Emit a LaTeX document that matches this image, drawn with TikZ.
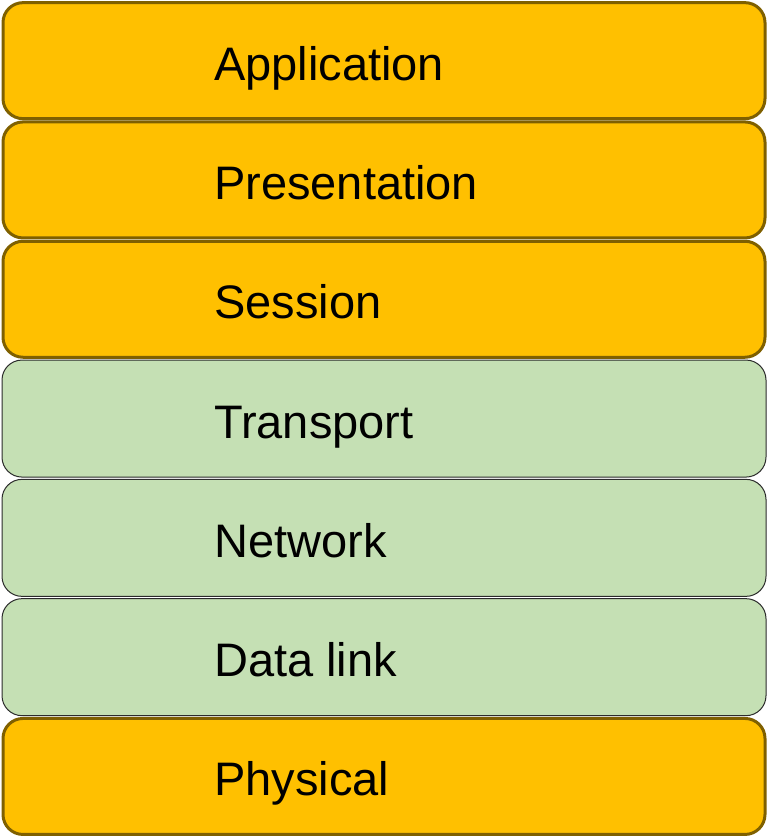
\documentclass[tikz,border=0pt]{standalone}
\usepackage{fontspec}
\setmainfont{Liberation Sans}
\definecolor{orangefill}{HTML}{FFC000}
\definecolor{orangeline}{HTML}{7F6000}
\definecolor{greenfill}{HTML}{C5E0B4}
\definecolor{greenline}{HTML}{2B2B2B}
\begin{document}
\begin{tikzpicture}[x=1pt,y=1pt,
  layerbox/.style={rectangle, rounded corners=20pt, minimum width=764pt, minimum height=117pt, inner sep=0pt, anchor=center},
  orangebox/.style={layerbox, fill=orangefill, draw=orangeline, line width=3pt, minimum width=762pt, minimum height=116pt},
  greenbox/.style={layerbox, fill=greenfill, draw=greenline, line width=1pt},
  layertext/.style={anchor=base west, inner sep=0pt, font=\fontsize{47pt}{50pt}\selectfont}]
\useasboundingbox (0,0) rectangle (768,-838);
% green layers first
\node[greenbox] (b4) at (384,{-(1+119.3*3.5)}) {};
\node[greenbox] (b5) at (384,{-(1+119.3*4.5)}) {};
\node[greenbox] (b6) at (384,{-(1+119.3*5.5)}) {};
% orange layers
\node[orangebox] (b1) at (384,{-(1+119.3*0.5)}) {};
\node[orangebox] (b2) at (384,{-(1+119.3*1.5)}) {};
\node[orangebox] (b3) at (384,{-(1+119.3*2.5)}) {};
\node[orangebox] (b7) at (384,{-(1+119.3*6.5)}) {};
% texts
\node[layertext] (t1) at (214,{-(1+119.3*0.5)-19.5}) {Application};
\node[layertext] (t2) at (214,{-(1+119.3*1.5)-19.5}) {Presentation};
\node[layertext] (t3) at (214,{-(1+119.3*2.5)-19.5}) {Session};
\node[layertext] (t4) at (214,{-(1+119.3*3.5)-19.5}) {Transport};
\node[layertext] (t5) at (214,{-(1+119.3*4.5)-19.5}) {Network};
\node[layertext] (t6) at (214,{-(1+119.3*5.5)-19.5}) {Data link};
\node[layertext] (t7) at (214,{-(1+119.3*6.5)-19.5}) {Physical};
\end{tikzpicture}
\end{document}
